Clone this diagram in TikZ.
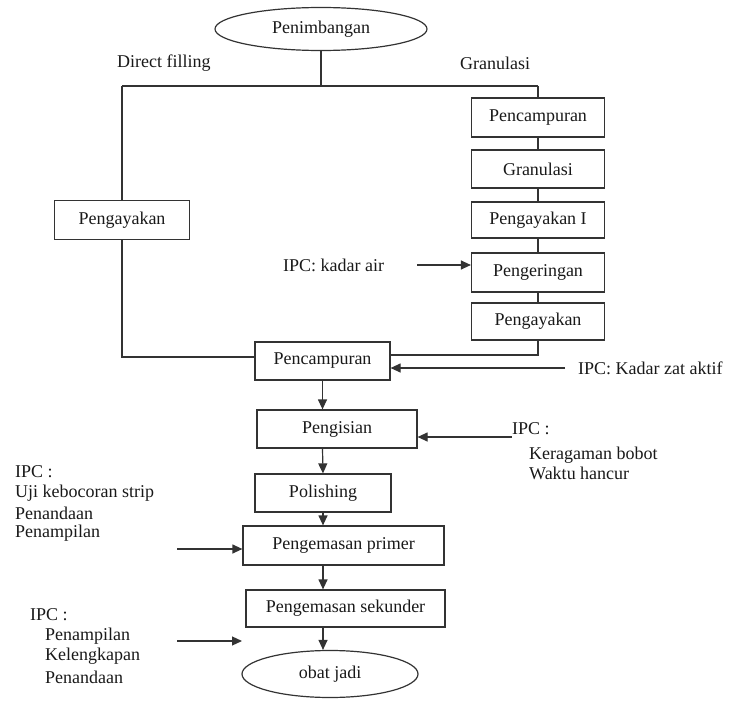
\documentclass[tikz,border=0pt]{standalone}
\usepackage{fontspec}
\setmainfont{Liberation Serif}
\usetikzlibrary{shapes.geometric,arrows.meta}
\begin{document}
\begin{tikzpicture}[x=1pt,y=-1pt,
  every node/.style={font=\fontsize{18}{21}\selectfont, text=black!90},
  box/.style={draw=black!80, line width=1.2pt, rectangle, inner sep=0pt},
  oval/.style={draw=black!80, line width=1.2pt, ellipse, inner sep=0pt},
  lbl/.style={anchor=west, inner sep=0pt},
  ln/.style={draw=black!80, line width=1.2pt},
  arr/.style={ln, -{Triangle[length=10pt,width=9pt]}}]
\useasboundingbox (0,0) rectangle (732,701);
% nodes
\node[oval, minimum width=212pt, minimum height=43pt] (pen) at (321,29) {Penimbangan};
\node[lbl] (df) at (117,63) {Direct filling};
\node[lbl] (gr) at (460,63) {Granulasi};
\coordinate (top) at (321,86);
\coordinate (tl) at (122,86);
\coordinate (tr) at (538,86);
\node[box, minimum width=135pt, minimum height=39pt] (pl) at (122,220) {Pengayakan};
\node[box, minimum width=133pt, minimum height=39pt] (r1) at (538,117.5) {Pencampuran};
\node[box, minimum width=133pt, minimum height=38pt] (r2) at (538,169) {Granulasi};
\node[box, minimum width=133pt, minimum height=36pt] (r3) at (538,220) {Pengayakan I};
\node[box, minimum width=133pt, minimum height=39pt] (r4) at (538,272.5) {Pengeringan};
\node[box, minimum width=133pt, minimum height=37pt] (r5) at (538,321.5) {Pengayakan};
\node[box, minimum width=135pt, minimum height=38pt] (pc) at (322.5,361) {Pencampuran};
\node[box, minimum width=160pt, minimum height=38pt] (pi) at (337,429) {Pengisian};
\node[box, minimum width=136pt, minimum height=38pt] (po) at (323,493) {Polishing};
\node[box, minimum width=201pt, minimum height=39pt] (pp) at (343.5,545.5) {Pengemasan primer};
\node[box, minimum width=199pt, minimum height=37pt] (ps) at (345.5,608.5) {Pengemasan sekunder};
\node[oval, minimum width=176pt, minimum height=47pt] (oj) at (330,674) {obat jadi};
% labels
\node[lbl] (ka) at (283,265) {IPC: kadar air};
\node[lbl] (kz) at (578,368) {IPC: Kadar zat aktif};
\node[lbl] (i2) at (512,429) {IPC :};
\node[lbl] (i2a) at (529,455) {Keragaman bobot};
\node[lbl] (i2b) at (529,473) {Waktu hancur};
\node[lbl] (i3) at (15,472) {IPC :};
\node[lbl] (i3a) at (15,493) {Uji kebocoran strip};
\node[lbl] (i3b) at (15,513) {Penandaan};
\node[lbl] (i3c) at (15,533) {Penampilan};
\node[lbl] (i4) at (30,615) {IPC :};
\node[lbl] (i4a) at (45,636) {Penampilan};
\node[lbl] (i4b) at (45,656) {Kelengkapan};
\node[lbl] (i4c) at (45,677) {Penandaan};
% free ends
\coordinate (kaS) at (417,265);
\coordinate (kzS) at (565,368);
\coordinate (i2S) at (512,437);
\coordinate (i3S) at (177,549);
\coordinate (i4S) at (177,641);
\coordinate (i4E) at (242,641);
% connectors
\draw[ln] (pen.south) -- (top);
\draw[ln] (tl) -- (tr);
\draw[ln] (tl) -- (pl.north);
\draw[ln] (pl.south) |- ([yshift=4pt]pc.west);
\draw[ln] (tr) -- (r1.north);
\draw[ln] (r1) -- (r2);
\draw[ln] (r2) -- (r3);
\draw[ln] (r3) -- (r4);
\draw[ln] (r4) -- (r5);
\draw[ln] (r5.south) |- ([yshift=6pt]pc.east);
\draw[arr] (kaS) -- (kaS -| r4.west);
\draw[arr] (kzS) -- (kzS -| pc.east);
\draw[arr] (i2S) -- (i2S -| pi.east);
\draw[arr] (pc.south) -- (pc.south |- pi.north);
\draw[arr] (pc.south |- pi.south) -- (po.north);
\draw[arr] (po.south) -- (po.south |- pp.north);
\draw[arr] (po.south |- pp.south) -- (po.south |- ps.north);
\draw[arr] (po.south |- ps.south) -- (po.south |- oj.north);
\draw[arr] (i3S) -- (i3S -| pp.west);
\draw[arr] (i4S) -- (i4E);
\end{tikzpicture}
\end{document}
